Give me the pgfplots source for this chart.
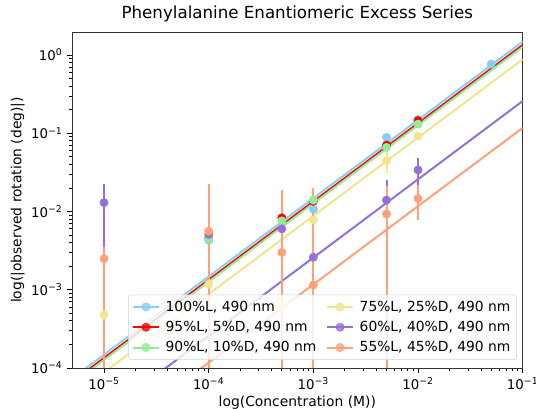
\documentclass[border=0pt]{standalone}
\usepackage{fontspec}
\setmainfont{DejaVu Sans}
\usepackage{pgfplots}
\pgfplotsset{compat=1.18}

\definecolor{cblue}{HTML}{87CEFA}
\definecolor{cred}{HTML}{FF0000}
\definecolor{cgreen}{HTML}{90EE90}
\definecolor{cyellow}{HTML}{F0E68C}
\definecolor{cpurple}{HTML}{9370DB}
\definecolor{csalmon}{HTML}{FFA07A}

\pgfplotsset{
  series/.style={color=#1, only marks, mark=*, mark size=3.1pt, forget plot,
    error bars/.cd, y dir=both, y explicit, error mark=none,
    error bar style={line width=1.5pt, #1}},
  fit/.style={color=#1, line width=1.5pt, no marks, forget plot},
}

\begin{document}
\begin{tikzpicture}
\useasboundingbox (-54pt,-30.75pt) rectangle (348pt,276pt);
\begin{axis}[
  scale only axis,
  width=338pt, height=252pt,
  xmode=log, ymode=log,
  xmin=4.94e-6, xmax=0.1,
  ymin=1e-4, ymax=1.97,
  xtick={1e-5,1e-4,1e-3,1e-2,1e-1},
  xticklabels={10\textsuperscript{−5},10\textsuperscript{−4},10\textsuperscript{−3},10\textsuperscript{−2},10\textsuperscript{−1}},
  ytick={1e-4,1e-3,1e-2,1e-1,1},
  yticklabels={10\textsuperscript{−4},10\textsuperscript{−3},10\textsuperscript{−2},10\textsuperscript{−1},10\textsuperscript{0}},
  tick align=outside,
  xtick pos=left, ytick pos=left,
  major tick length=3.6pt, minor tick length=2.1pt,
  tick style={black, line width=0.6pt},
  axis line style={black!80, line width=0.6pt},
  ticklabel style={font=\fontsize{10}{12}\selectfont},
  label style={font=\fontsize{10.4}{12}\selectfont},
  xlabel={log(Concentration (M))},
  ylabel={log(|observed rotation (deg)|)},
  xlabel style={yshift=2pt},
  ylabel style={yshift=-2pt},
  title={Phenylalanine Enantiomeric Excess Series},
  title style={font=\fontsize{12.5}{14}\selectfont, yshift=-2pt},
  legend columns=2,
  legend cell align=left,
  legend style={at={(0.987,0.024)}, anchor=south east,
    font=\fontsize{10.4}{12}\selectfont,
    draw=black!18, rounded corners=2pt, fill=white, fill opacity=0.8, text opacity=1,
    inner sep=2.5pt,
    /tikz/every even column/.append style={column sep=5pt},
    /tikz/every odd column/.append style={column sep=2pt},
    row sep=2pt},
  legend image code/.code={
    \draw[#1, line width=1.5pt] (0cm,0cm) -- (0.7cm,0cm);
    \fill[#1] (0.35cm,0cm) circle (3.1pt);
  },
]
% legend entries (row-wise order for two columns)
\addlegendimage{cblue}\addlegendentry{100\%L, 490 nm}
\addlegendimage{cyellow}\addlegendentry{75\%L, 25\%D, 490 nm}
\addlegendimage{cred}\addlegendentry{95\%L, 5\%D, 490 nm}
\addlegendimage{cpurple}\addlegendentry{60\%L, 40\%D, 490 nm}
\addlegendimage{cgreen}\addlegendentry{90\%L, 10\%D, 490 nm}
\addlegendimage{csalmon}\addlegendentry{55\%L, 45\%D, 490 nm}

% 100%L
\addplot[series=cblue] coordinates {
  (1e-4,0.0043) +- (0,0.002)
  (5e-4,0.0078) +- (0,0.002)
  (1e-3,0.0107) +- (0,0.0064)
  (5e-3,0.0886) +- (0,0.004)
  (1e-2,0.150) +- (0,0.005)
  (5e-2,0.767) +- (0,0.01)
};
\addplot[fit=cblue] coordinates {(4.94e-6,7.31e-5) (0.1,1.48)};

% 95%L
\addplot[series=cred] coordinates {
  (1e-4,0.0046) += (0,0.0058) -= (0,0.00459)
  (5e-4,0.0083) +- (0,0.008)
  (1e-3,0.0135) +- (0,0.006)
  (5e-3,0.0707) +- (0,0.004)
  (1e-2,0.145) +- (0,0.012)
};
\addplot[fit=cred] coordinates {(4.94e-6,6.62e-5) (0.1,1.34)};

% 90%L
\addplot[series=cgreen] coordinates {
  (1e-4,0.0045) +- (0,0.002)
  (5e-4,0.0076) +- (0,0.003)
  (1e-3,0.0140) +- (0,0.004)
  (5e-3,0.066) +- (0,0.004)
  (1e-2,0.131) +- (0,0.006)
};
\addplot[fit=cgreen] coordinates {(4.94e-6,6.27e-5) (0.1,1.27)};

% 75%L
\addplot[series=cyellow] coordinates {
  (1e-5,0.00048) +- (0,0.0003)
  (1e-4,0.00118) +- (0,0.0005)
  (5e-4,0.00059) +- (0,0.0003)
  (1e-3,0.0078) +- (0,0.003)
  (5e-3,0.0445) +- (0,0.0135)
  (1e-2,0.092) +- (0,0.005)
};
\addplot[fit=cyellow] coordinates {(4.94e-6,4.35e-5) (0.1,0.88)};

% 60%L
\addplot[series=cpurple] coordinates {
  (1e-5,0.0130) +- (0,0.0095)
  (1e-4,0.0051) +- (0,0.002)
  (5e-4,0.0060) +- (0,0.002)
  (1e-3,0.0026) +- (0,0.0008)
  (5e-3,0.0140) +- (0,0.011)
  (1e-2,0.034) +- (0,0.014)
};
\addplot[fit=cpurple] coordinates {(4.94e-6,1.27e-5) (0.1,0.258)};

% 55%L
\addplot[series=csalmon] coordinates {
  (1e-5,0.0025) += (0,0.001) -= (0,0.00249)
  (1e-4,0.0056) += (0,0.017) -= (0,0.00559)
  (5e-4,0.0030) += (0,0.016) -= (0,0.00299)
  (1e-3,0.00115) += (0,0.019) -= (0,0.001149)
  (5e-3,0.0093) += (0,0.012) -= (0,0.00929)
  (1e-2,0.0147) +- (0,0.0069)
};
\addplot[fit=csalmon] coordinates {(4.94e-6,5.78e-6) (0.1,0.117)};
\end{axis}
\end{tikzpicture}
\end{document}
